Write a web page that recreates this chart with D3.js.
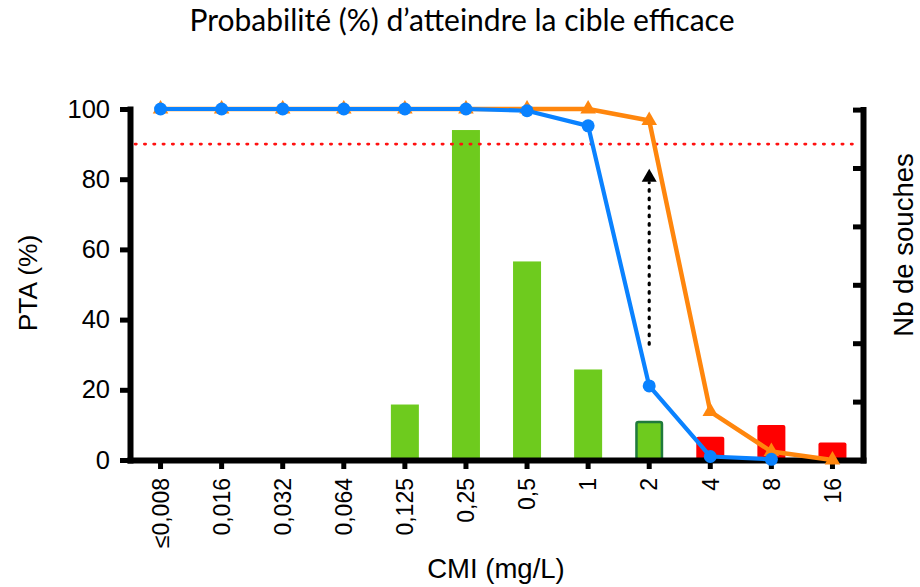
<!DOCTYPE html>
<html lang="fr">
<head>
<meta charset="utf-8">
<script src="https://cdn.jsdelivr.net/npm/d3@7"></script>
<style>
  html, body { margin: 0; padding: 0; background: #fff; }
  svg { display: block; }
  .axis text { font-family: "Liberation Sans", Arial, sans-serif; fill: #000; }
</style>
</head>
<body>
<svg id="chart" width="920" height="587"></svg>
<script>
// MIC classes (mg/L)
const categories = ["≤0,008", "0,016", "0,032", "0,064", "0,125", "0,25", "0,5", "1", "2", "4", "8", "16"];
// Probability of target attainment (%), standard regimen (blue) and optimised regimen (orange)
const ptaStandard = [100, 100, 100, 100, 100, 100, 99.5, 95.2, 21.1, 1, 0.2, null];
const ptaOptimised = [100, 100, 100, 100, 100, 100, 100, 100, 96.7, 13.8, 2.4, 0];
// Number of strains per MIC class
const strainCounts = [0, 0, 0, 0, 19, 113, 68, 31, 13, 8, 12, 6];
// S = susceptible, B = breakpoint class, R = resistant
const strainGroups = ["S", "S", "S", "S", "S", "S", "S", "S", "B", "R", "R", "R"];
// Target threshold (%) and the gain arrow drawn at MIC = 2
const targetPTA = 90;
const arrowCategory = "2";
const arrowFromTo = [33, 83];
// Axis ticks
const leftTicks = [0, 20, 40, 60, 80, 100];
const rightTicks = [0, 20, 40, 60, 80, 100, 120];

(function () {
  const svg = d3.select("#chart");
  const plotLeft = 130, plotRight = 863, plotTop = 109, plotBottom = 460;

  const x = d3.scaleBand().domain(categories).range([plotLeft, plotRight]).padding(0);
  const y = d3.scaleLinear().domain([0, 100]).range([plotBottom, plotTop]);
  const yR = d3.scaleLinear().domain([0, 120]).range([plotBottom, plotBottom - 120 * 2.92]);

  const colors = { S: "#6ecb1e", B: "#6ecb1e", R: "#ff0000" };
  const blue = "#0a82ff", orange = "#ff860d";

  // Strain count bars (right axis)
  const barW = 28;
  const bars = categories.map((c, i) => ({ c, n: strainCounts[i], g: strainGroups[i] })).filter(d => d.n > 0);
  svg.append("g").selectAll("rect").data(bars).join("rect")
    .attr("x", d => x(d.c) + x.bandwidth() / 2 - barW / 2 + (d.g === "B" ? 1.25 : 0))
    .attr("width", d => barW - (d.g === "B" ? 2.5 : 0))
    .attr("y", d => yR(d.n))
    .attr("height", d => yR(0) - yR(d.n))
    .attr("rx", d => d.g === "S" ? 0 : 2)
    .attr("fill", d => colors[d.g])
    .attr("stroke", d => d.g === "B" ? "#1f7a3c" : "none")
    .attr("stroke-width", 2.5);

  // Axes
  const axisLeft = svg.append("g").attr("class", "axis").attr("transform", `translate(${plotLeft},0)`)
    .call(d3.axisLeft(y).tickValues(leftTicks).tickSize(10).tickSizeOuter(0).tickPadding(10));
  axisLeft.selectAll("text").style("font-size", "25.5px");

  svg.append("g").attr("class", "axis").attr("transform", `translate(${plotRight},0)`)
    .call(d3.axisRight(yR).tickValues(rightTicks).tickSize(-10).tickSizeOuter(0).tickFormat(""));

  const axisBottom = svg.append("g").attr("class", "axis").attr("transform", `translate(0,${plotBottom})`)
    .call(d3.axisBottom(x).tickSize(9).tickSizeOuter(0));
  axisBottom.selectAll("text")
    .style("font-size", "23px")
    .attr("transform", "rotate(-90)")
    .attr("text-anchor", "end")
    .attr("x", -18).attr("y", 0).attr("dy", "0.36em");

  svg.selectAll(".axis .domain").attr("stroke", "#000").attr("stroke-width", 6).attr("stroke-linecap", "square");
  svg.selectAll(".axis .tick line").attr("stroke", "#000").attr("stroke-width", 5);

  // Target threshold line
  svg.append("line")
    .attr("x1", plotLeft + 5).attr("x2", plotRight - 3)
    .attr("y1", y(targetPTA)).attr("y2", y(targetPTA))
    .attr("stroke", "#ff1010").attr("stroke-width", 2.6)
    .attr("stroke-linecap", "round").attr("stroke-dasharray", "1.4 7.9");

  // Dotted arrow
  const ax = x(arrowCategory) + x.bandwidth() / 2;
  svg.append("line")
    .attr("x1", ax).attr("x2", ax)
    .attr("y1", y(arrowFromTo[0])).attr("y2", y(arrowFromTo[1]) + 14)
    .attr("stroke", "#000").attr("stroke-width", 3.2)
    .attr("stroke-linecap", "round").attr("stroke-dasharray", "1.5 7");
  svg.append("path")
    .attr("d", `M${ax},${y(arrowFromTo[1])} L${ax + 7.5},${y(arrowFromTo[1]) + 13} L${ax - 7.5},${y(arrowFromTo[1]) + 13} Z`)
    .attr("fill", "#000");

  // PTA curves
  const cx = c => x(c) + x.bandwidth() / 2;
  const line = d3.line().defined(d => d.v != null).x(d => cx(d.c)).y(d => y(d.v));
  const optPts = categories.map((c, i) => ({ c, v: ptaOptimised[i] }));
  const stdPts = categories.map((c, i) => ({ c, v: ptaStandard[i] })).filter(d => d.v != null);

  svg.append("path").datum(optPts).attr("d", line)
    .attr("fill", "none").attr("stroke", orange).attr("stroke-width", 4.5).attr("stroke-linejoin", "round");
  svg.append("g").selectAll("path").data(optPts).join("path")
    .attr("transform", d => `translate(${cx(d.c)},${y(d.v)})`)
    .attr("d", d3.symbol(d3.symbolTriangle, 105))
    .attr("fill", orange);

  svg.append("path").datum(stdPts).attr("d", line)
    .attr("fill", "none").attr("stroke", blue).attr("stroke-width", 4.2).attr("stroke-linejoin", "round");
  svg.append("g").selectAll("circle").data(stdPts).join("circle")
    .attr("cx", d => cx(d.c)).attr("cy", d => y(d.v)).attr("r", 6.5)
    .attr("fill", blue);

  // Titles
  svg.append("text")
    .attr("x", 462).attr("y", 31)
    .attr("text-anchor", "middle")
    .style("font-family", "Lato, 'Open Sans', sans-serif").style("font-size", "30px")
    .text("Probabilité (%) d’atteindre la cible efficace");

  svg.append("text")
    .attr("transform", "translate(37,283) rotate(-90)")
    .attr("text-anchor", "middle")
    .style("font-family", "'Liberation Sans', Arial, sans-serif").style("font-size", "26.5px")
    .text("PTA (%)");

  svg.append("text")
    .attr("transform", "translate(913,245) rotate(-90)")
    .attr("text-anchor", "middle")
    .style("font-family", "'Liberation Sans', Arial, sans-serif").style("font-size", "27.5px")
    .text("Nb de souches");

  svg.append("text")
    .attr("x", 496).attr("y", 578)
    .attr("text-anchor", "middle")
    .style("font-family", "'Liberation Sans', Arial, sans-serif").style("font-size", "27.5px")
    .text("CMI (mg/L)");
})();
</script>
</body>
</html>
